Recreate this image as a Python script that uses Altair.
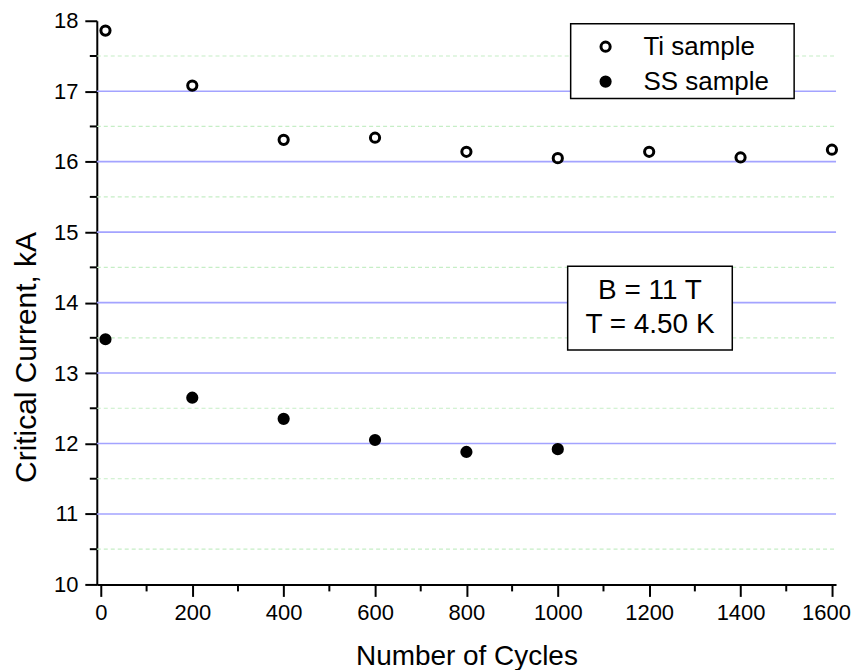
import altair as alt
import pandas as pd

# ---- data ----
series_names = ["Ti sample", "SS sample"]
ti_cycles = [10, 200, 400, 600, 800, 1000, 1200, 1400, 1600]
ti_current = [17.86, 17.08, 16.31, 16.34, 16.14, 16.05, 16.14, 16.06, 16.17]
ss_cycles = [10, 200, 400, 600, 800, 1000]
ss_current = [13.48, 12.65, 12.35, 12.05, 11.88, 11.92]

x_major_ticks = [0, 200, 400, 600, 800, 1000, 1200, 1400, 1600]
x_minor_ticks = [100, 300, 500, 700, 900, 1100, 1300, 1500]
y_major_ticks = [10, 11, 12, 13, 14, 15, 16, 17, 18]
y_major_grid = [11, 12, 13, 14, 15, 16, 17]
y_minor = [10.5, 11.5, 12.5, 13.5, 14.5, 15.5, 16.5, 17.5]
annotation_lines = ["B = 11 T", "T = 4.50 K"]

FONT = "Liberation Sans"

pts = pd.DataFrame(
    {"cycles": ti_cycles + ss_cycles,
     "current": ti_current + ss_current,
     "sample": [series_names[0]] * len(ti_cycles) + [series_names[1]] * len(ss_cycles)}
)
minor_y_df = pd.DataFrame({"current": y_minor})
major_y_df = pd.DataFrame({"current": y_major_grid})
minor_x_df = pd.DataFrame({"cycles": x_minor_ticks})
one_row = pd.DataFrame({"k": [0]})

xscale = alt.Scale(domain=[-9, 1609], nice=False, zero=False)
yscale = alt.Scale(domain=[10, 18], nice=False, zero=False)

minor_grid = alt.Chart(minor_y_df).mark_rule(
    color="#c6eec6", strokeWidth=1.2, strokeDash=[4, 3]
).encode(y=alt.Y("current:Q", scale=yscale), x=alt.value(0), x2=alt.value(741))

major_grid = alt.Chart(major_y_df).mark_rule(
    color="#a3a3ff", strokeWidth=1.6
).encode(y=alt.Y("current:Q", scale=yscale), x=alt.value(0), x2=alt.value(741))

minor_yticks = alt.Chart(minor_y_df).mark_rule(color="black", strokeWidth=2).encode(
    y=alt.Y("current:Q", scale=yscale), x=alt.value(-7), x2=alt.value(0)
)
minor_xticks = alt.Chart(minor_x_df).mark_rule(color="black", strokeWidth=2).encode(
    x=alt.X("cycles:Q", scale=xscale), y=alt.value(565), y2=alt.value(572)
)

legend_box = alt.Chart(one_row).mark_rect(
    fill="white", stroke="black", strokeWidth=1.5
).encode(x=alt.value(475), x2=alt.value(699), y=alt.value(3), y2=alt.value(78))

anno_box = alt.Chart(one_row).mark_rect(
    fill="white", stroke="black", strokeWidth=1.5
).encode(x=alt.value(472), x2=alt.value(637), y=alt.value(246), y2=alt.value(330))

anno_text = alt.Chart(one_row).mark_text(
    text=annotation_lines, font=FONT, fontSize=28, color="black",
    align="center", baseline="middle", lineHeight=34
).encode(x=alt.value(554.5), y=alt.value(271))

points = alt.Chart(pts).mark_point(
    shape="circle", size=85, strokeWidth=3, stroke="black", opacity=1, filled=False
).encode(
    x=alt.X("cycles:Q", scale=xscale,
            axis=alt.Axis(values=x_major_ticks, title="Number of Cycles", format="d",
                          grid=False, tickSize=12, tickWidth=2, domainWidth=2,
                          domainColor="black", tickColor="black",
                          labelFont=FONT, labelFontSize=22, labelColor="black",
                          labelOffset=alt.condition("datum.value == 1600",
                                                    alt.value(-6), alt.value(0)),
                          labelPadding=6, titleFont=FONT, titleFontSize=28,
                          titleFontWeight="normal", titleColor="black",
                          titleBaseline="alphabetic", titleY=80)),
    y=alt.Y("current:Q", scale=yscale,
            axis=alt.Axis(values=y_major_ticks, title="Critical Current, kA", format="d",
                          grid=False, tickSize=12, tickWidth=2, domainWidth=2,
                          domainColor="black", tickColor="black",
                          labelFont=FONT, labelFontSize=22, labelColor="black",
                          labelPadding=7, titleFont=FONT, titleFontSize=30,
                          titleFontWeight="normal", titleColor="black",
                          titleAlign="center", titleBaseline="alphabetic",
                          titleX=-61, titleY=337)),
    fill=alt.Fill("sample:N",
                  scale=alt.Scale(domain=series_names, range=["white", "black"]),
                  legend=alt.Legend(title=None, orient="none", legendX=485, legendY=13,
                                    labelFont=FONT, labelFontSize=26, labelColor="black",
                                    symbolType="circle", symbolSize=85,
                                    symbolStrokeWidth=3, symbolStrokeColor="black",
                                    symbolOffset=12, labelOffset=25, rowPadding=9,
                                    padding=0)),
)

chart = alt.layer(
    minor_grid, major_grid, minor_yticks, minor_xticks, legend_box, anno_box, anno_text, points
).properties(
    width=741, height=565,
    padding={"left": 89, "top": 12, "right": 15, "bottom": 85},
    autosize=alt.AutoSizeParams(type="none"),
).configure_view(stroke=None)

chart.save("out.html", embed_options={"renderer": "svg", "actions": False})
